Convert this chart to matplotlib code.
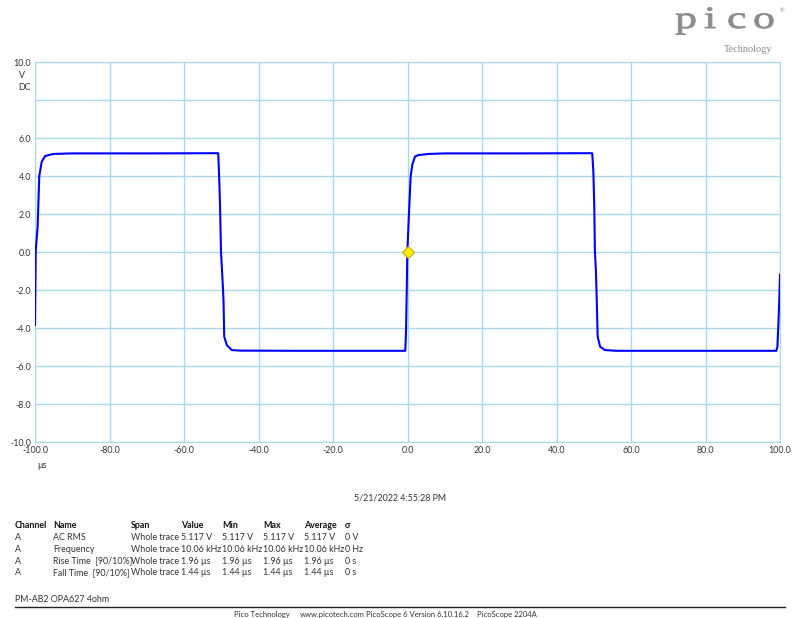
import numpy as np
import matplotlib
matplotlib.use('Agg')
import matplotlib.pyplot as plt
from matplotlib.textpath import TextPath
from matplotlib.font_manager import FontProperties
from matplotlib.patches import PathPatch
from matplotlib.transforms import Affine2D

# trace (us, V)
t_us = [-100.0, -99.8, -99.3, -98.85, -98.2, -97.3, -95.1, -90.0, -70.0, -51.0,
        -50.8, -50.5, -50.3, -50.07, -49.7, -49.4, -49.2, -48.5, -47.2, -45.0,
        -30.0, -10.0, -0.6, -0.4, -0.2, -0.05, 0.4, 0.85, 1.3, 2.0, 2.9, 5.6,
        10.0, 30.0, 49.4, 49.6, 49.9, 50.15, 50.3, 50.6, 50.8, 51.05, 51.7,
        53.0, 56.0, 80.0, 99.0, 99.3, 99.55, 99.8, 100.0]
volts = [-3.84, 0.1, 1.3, 4.0, 4.75, 5.05, 5.16, 5.19, 5.19, 5.2,
         5.19, 3.6, 2.2, 0.0, -1.3, -2.5, -4.45, -4.9, -5.16, -5.19,
         -5.2, -5.2, -5.2, -4.2, -2.0, 0.0, 2.05, 4.0, 4.6, 5.02, 5.1, 5.16,
         5.19, 5.19, 5.2, 5.19, 4.2, 2.3, 0.1, -1.1, -2.5, -4.45, -4.98,
         -5.16, -5.2, -5.2, -5.2, -5.0, -3.84, -2.6, -1.2]

x_ticks = [-100, -80, -60, -40, -20, 0, 20, 40, 60, 80, 100]
y_ticks = [-10, -8, -6, -4, -2, 0, 2, 4, 6, 8, 10]
y_labels = ['-10.0', '-8.0', '-6.0', '-4.0', '-2.0', '0.0', '2.0', '4.0', '6.0', '', '10.0']

headers = ['Channel', 'Name', 'Span', 'Value', 'Min', 'Max', 'Average', 'σ']
rows = [
    ['A', 'AC RMS', 'Whole trace', '5.117 V', '5.117 V', '5.117 V', '5.117 V', '0 V'],
    ['A', 'Frequency', 'Whole trace', '10.06 kHz', '10.06 kHz', '10.06 kHz', '10.06 kHz', '0 Hz'],
    ['A', 'Rise Time  [90/10%]', 'Whole trace', '1.96 µs', '1.96 µs', '1.96 µs', '1.96 µs', '0 s'],
    ['A', 'Fall Time  [90/10%]', 'Whole trace', '1.44 µs', '1.44 µs', '1.44 µs', '1.44 µs', '0 s'],
]
col_x = [15, 53, 131, 181, 222, 263, 304, 345]
footer = ['Pico Technology', 'www.picotech.com', 'PicoScope 6 Version 6.10.16.2', 'PicoScope 2204A']
footer_x = [234, 300, 366, 477]

plt.rcParams['font.family'] = ['Lato', 'DejaVu Sans']
W, H = 800, 618
grid_c = '#a9d8ea'
txt_c = '#333333'
fs = 6.4


def px(x, y):
    return x / W, 1 - y / H


fig = plt.figure(figsize=(8, 6.18), dpi=100)
ax = fig.add_axes([35 / W, 1 - 442 / H, 745 / W, 380 / H])
ax.plot(t_us, volts, color='#0000ff', lw=1.5, zorder=3)
ax.plot([0], [0], marker='D', ms=6, mfc='#ffee00', mec='#c8a800', mew=0.8, zorder=4)
ax.set_xlim(-100, 100)
ax.set_ylim(-10, 10)
ax.set_xticks(x_ticks)
ax.set_xticklabels([f'{v:.1f}' for v in x_ticks])
ax.set_yticks(y_ticks)
ax.set_yticklabels(y_labels)
ax.tick_params(length=0, labelsize=fs, colors=txt_c, pad=3)
ax.grid(True, color=grid_c, lw=1)
for s in ax.spines.values():
    s.set_color(grid_c)

fig.text(*px(19, 75), 'V', fontsize=fs, color=txt_c, va='center', ha='left')
fig.text(*px(18, 87), 'DC', fontsize=fs, color=txt_c, va='center', ha='left')
fig.text(*px(37, 466), 'µs', fontsize=fs, color=txt_c, va='center', ha='left')

fig.text(*px(400, 498), '5/21/2022 4:55:28 PM', fontsize=fs, color=txt_c, va='center', ha='center')

for h, x in zip(headers, col_x):
    fig.text(*px(x, 526), h, fontsize=fs, color='#111111', weight='bold', va='center')
for i, r in enumerate(rows):
    y = 537.5 + i * 11.8
    for v, x in zip(r, col_x):
        fig.text(*px(x, y), v, fontsize=fs, color=txt_c, va='center')

fig.text(*px(15, 599), 'PM-AB2 OPA627 4ohm', fontsize=fs, color=txt_c, va='center')
fig.add_artist(plt.Line2D([15 / W, 785 / W], [1 - 607 / H, 1 - 607 / H], color='#222222', lw=1))
for s, x in zip(footer, footer_x):
    fig.text(*px(x, 614), s, fontsize=5.5, color=txt_c, va='center')

# logo, drawn in pixel coordinates on an overlay
lax = fig.add_axes([0, 0, 1, 1], zorder=-1)
lax.set_xlim(0, W)
lax.set_ylim(H, 0)
lax.axis('off')
serif = FontProperties(family='Liberation Serif')
for ch, x in [('p', 675), ('i', 704), ('c', 727), ('o', 753)]:
    tp = TextPath((0, 0), ch, size=1, prop=serif)
    tr = Affine2D().scale(44, -31).translate(x, 28) + lax.transData
    lax.add_patch(PathPatch(tp, transform=tr, fc='#8c8c8c', ec='#8c8c8c', lw=0.6))
fig.text(*px(782, 11), '®', fontsize=4, color='#8c8c8c', ha='center', va='center')
fig.text(*px(748, 50), 'Technology', fontsize=7.5, family='Liberation Serif',
         color='#8a8a8a', ha='center', va='center')

fig.savefig('out.png', dpi=100)
